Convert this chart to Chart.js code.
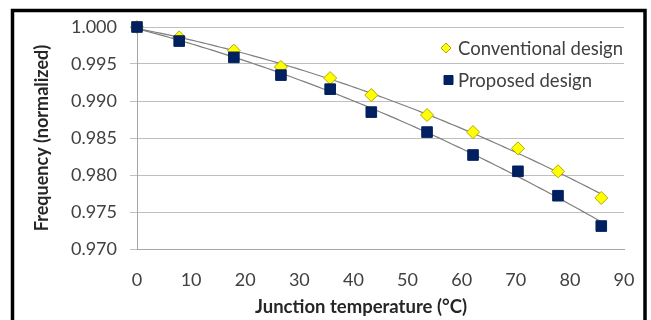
<!DOCTYPE html>
<html lang="en">
<head>
  <meta charset="UTF-8">
  <title>Frequency vs junction temperature</title>
  <script src="https://cdn.jsdelivr.net/npm/chart.js"></script>
  <style>
    html, body { margin: 0; padding: 0; background: #ffffff; }
    #wrap { width: 651px; height: 320px; position: relative; }
  </style>
</head>
<body>
  <div id="wrap"><canvas id="freqChart" width="651" height="320"></canvas></div>

  <script>
    // values
    const temps = [0, 7.8, 17.9, 26.6, 35.7, 43.3, 53.6, 62.1, 70.4, 77.8, 85.8];
    const conventional = [1.000, 0.9986, 0.9968, 0.9946, 0.9931, 0.9908, 0.9881, 0.9858, 0.9836, 0.9805, 0.9769];
    const proposed = [1.000, 0.9981, 0.9959, 0.9935, 0.9916, 0.9885, 0.9858, 0.9827, 0.9805, 0.9772, 0.9731];
    const seriesNames = ['Conventional design', 'Proposed design'];
    const xTicks = [0, 10, 20, 30, 40, 50, 60, 70, 80, 90];
    const yTicks = [0.970, 0.975, 0.980, 0.985, 0.990, 0.995, 1.000];
    const xTitle = 'Junction temperature (°C)';
    const yTitle = 'Frequency (normalized)';

    const FONT = 'Lato, "Open Sans", sans-serif';

    function toPoints(xs, ys) {
      return xs.map((x, i) => ({ x: x, y: ys[i] }));
    }

    // least squares 2nd order fit, like the spreadsheet trendline
    function quadFit(pts) {
      let s = [0, 0, 0, 0, 0], t = [0, 0, 0];
      pts.forEach(p => {
        for (let k = 0; k < 5; k++) s[k] += Math.pow(p.x, k);
        for (let k = 0; k < 3; k++) t[k] += p.y * Math.pow(p.x, k);
      });
      const m = [[s[0], s[1], s[2], t[0]], [s[1], s[2], s[3], t[1]], [s[2], s[3], s[4], t[2]]];
      for (let i = 0; i < 3; i++) {
        for (let j = i + 1; j < 3; j++) {
          const f = m[j][i] / m[i][i];
          for (let k = i; k < 4; k++) m[j][k] -= f * m[i][k];
        }
      }
      const c = [0, 0, 0];
      for (let i = 2; i >= 0; i--) {
        let v = m[i][3];
        for (let k = i + 1; k < 3; k++) v -= m[i][k] * c[k];
        c[i] = v / m[i][i];
      }
      return c;
    }

    const frame = {
      id: 'frame',
      beforeDraw(chart) {
        const ctx = chart.ctx;
        ctx.save();
        ctx.fillStyle = '#ffffff';
        ctx.fillRect(0, 0, chart.width, chart.height);
        ctx.strokeStyle = '#000000';
        ctx.lineWidth = 3.5;
        ctx.strokeRect(12.5, 10.5, 632.5, 330);
        ctx.restore();
      }
    };

    const trendlines = {
      id: 'trendlines',
      beforeDatasetsDraw(chart) {
        const ctx = chart.ctx, xs = chart.scales.x, ys = chart.scales.y;
        ctx.save();
        ctx.strokeStyle = '#7f7f7f';
        ctx.lineWidth = 1.2;
        chart.data.datasets.forEach(ds => {
          const c = quadFit(ds.data);
          const x0 = ds.data[0].x, x1 = ds.data[ds.data.length - 1].x;
          ctx.beginPath();
          for (let i = 0; i <= 100; i++) {
            const x = x0 + (x1 - x0) * i / 100;
            const y = c[0] + c[1] * x + c[2] * x * x;
            const px = xs.getPixelForValue(x), py = ys.getPixelForValue(y);
            if (i === 0) ctx.moveTo(px, py); else ctx.lineTo(px, py);
          }
          ctx.stroke();
        });
        ctx.restore();
      }
    };

    // legend sits inside the plot, and the x title is a bit left of centre
    const extras = {
      id: 'extras',
      afterDraw(chart) {
        const ctx = chart.ctx;
        ctx.save();
        ctx.font = '18.5px ' + FONT;
        ctx.textBaseline = 'middle';
        const rows = [48, 80];
        chart.data.datasets.slice().sort((a, b) => b.order - a.order).forEach((ds, i) => {
          const y = rows[i];
          ctx.fillStyle = ds.backgroundColor;
          ctx.strokeStyle = ds.borderColor;
          ctx.lineWidth = 1;
          ctx.beginPath();
          if (ds.pointStyle === 'rectRot') {
            ctx.moveTo(446, y - 5); ctx.lineTo(451, y); ctx.lineTo(446, y + 5); ctx.lineTo(441, y);
            ctx.closePath();
          } else {
            ctx.rect(444, y - 4.5, 9, 9);
          }
          ctx.fill();
          ctx.stroke();
          ctx.fillStyle = '#404040';
          ctx.fillText(ds.label, 458, y + 1);
        });

        ctx.font = 'bold 18.5px ' + FONT;
        ctx.fillStyle = '#262626';
        ctx.textAlign = 'center';
        ctx.fillText(xTitle, 361, 307);
        ctx.restore();
      }
    };

    const ctx = document.getElementById('freqChart').getContext('2d');
    new Chart(ctx, {
      type: 'scatter',
      data: {
        datasets: [{
          label: seriesNames[0],
          data: toPoints(temps, conventional),
          pointStyle: 'rectRot',
          pointRadius: 6.5,
          backgroundColor: '#ffff00',
          borderColor: '#b5a800',
          borderWidth: 1,
          clip: false,
          order: 1
        }, {
          label: seriesNames[1],
          data: toPoints(temps, proposed),
          pointStyle: 'rect',
          pointRadius: 7.5,
          backgroundColor: '#002060',
          borderColor: '#002060',
          borderWidth: 1,
          clip: false,
          order: 0
        }]
      },
      options: {
        responsive: false,
        animation: false,
        layout: { padding: { top: 27, right: 27, left: 14, bottom: 0 } },
        plugins: {
          legend: { display: false },
          tooltip: { enabled: false }
        },
        scales: {
          x: {
            type: 'linear',
            min: 0,
            max: 90,
            afterBuildTicks: s => { s.ticks = xTicks.map(v => ({ value: v })); },
            afterFit: s => { s.height = 71; },
            grid: { display: false, drawTicks: true, tickLength: 6, tickColor: '#a6a6a6' },
            border: { display: true, color: '#a6a6a6' },
            ticks: { font: { family: FONT, size: 18 }, color: '#404040', padding: 14 }
          },
          y: {
            min: 0.970,
            max: 1.000,
            afterBuildTicks: s => { s.ticks = yTicks.map(v => ({ value: v })); },
            afterFit: s => { s.width = 123; },
            grid: { color: '#bfbfbf', tickLength: 7, tickColor: '#bfbfbf' },
            border: { display: true, color: '#a6a6a6' },
            ticks: {
              font: { family: FONT, size: 18 },
              color: '#404040',
              padding: 13,
              callback: v => v.toFixed(3)
            },
            title: {
              display: true,
              text: yTitle,
              font: { family: FONT, size: 18, weight: 'bold' },
              color: '#262626',
              padding: { top: 17, bottom: 0 }
            }
          }
        }
      },
      plugins: [frame, trendlines, extras]
    });
  </script>
</body>
</html>
